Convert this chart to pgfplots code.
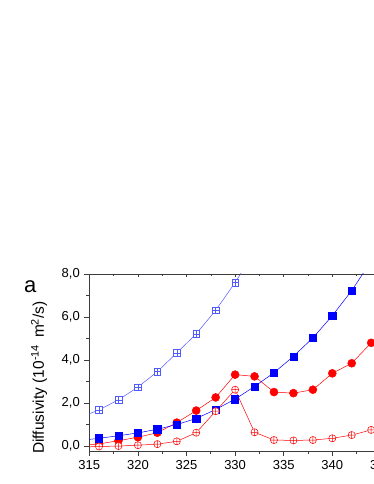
\documentclass[border=0pt]{standalone}
\usepackage{pgfplots}
\pgfplotsset{compat=1.18}
\usepackage{fontspec}
\setmainfont{Liberation Sans}
\usetikzlibrary{plotmarks}

\definecolor{rd}{RGB}{255,0,0}
\definecolor{bl}{RGB}{0,0,255}
\definecolor{lbl}{RGB}{80,90,255}
\definecolor{axgray}{RGB}{60,60,60}

% square with a cross inside (Origin style)
\pgfdeclareplotmark{boxplus}{%
  \pgfpathrectangle{\pgfqpoint{-\pgfplotmarksize}{-\pgfplotmarksize}}{\pgfqpoint{2\pgfplotmarksize}{2\pgfplotmarksize}}%
  \pgfusepathqfillstroke
  \pgfpathmoveto{\pgfqpoint{-\pgfplotmarksize}{0pt}}\pgfpathlineto{\pgfqpoint{\pgfplotmarksize}{0pt}}%
  \pgfpathmoveto{\pgfqpoint{0pt}{-\pgfplotmarksize}}\pgfpathlineto{\pgfqpoint{0pt}{\pgfplotmarksize}}%
  \pgfusepathqstroke}

\pgfplotsset{
  common/.style={
    at={(89.3pt,33pt)}, anchor=south west,
    scale only axis, width=340.2pt, height=177pt,
    xmin=315, xmax=350, ymin=-0.23, ymax=8,
    xtick={315,320,...,350}, ytick={0,2,...,8},
    minor x tick num=1, minor y tick num=1,
  }
}

\begin{document}
\begin{tikzpicture}
\begin{scope}
\clip (0,0) rectangle (374pt,484pt);
\begin{axis}[
  common,
  axis line style={axgray, line width=0.9pt},
  tick style={axgray, line width=0.8pt},
  tick align=outside,
  xtick pos=left, ytick pos=left,
  major tick length=5pt, minor tick length=3pt,
  tick label style={font=\fontsize{13}{15}\selectfont},
  xticklabel style={/pgf/number format/.cd, set thousands separator={}, assume math mode=true},
  yticklabel style={/pgf/number format/.cd, fixed, fixed zerofill, precision=1, use comma, assume math mode=true},
  xticklabel shift=1pt,
  yticklabel shift=1pt,
]
% red, filled circles
\addplot[rd, line width=0.5pt, mark=*, mark size=4pt, mark options={fill=rd}] coordinates {
  (314,0.03) (316,0.10) (318,0.25) (320,0.41) (322,0.62) (324,1.09) (326,1.65)
  (328,2.26) (330,3.32) (332,3.24) (334,2.51) (336,2.46) (338,2.62) (340,3.38)
  (342,3.85) (344,4.80) (346,5.80)
};
% blue, filled squares
\addplot[bl, line width=0.5pt, mark=square*, mark size=3.6pt, mark options={fill=bl}] coordinates {
  (314,0.26) (316,0.36) (318,0.48) (320,0.61) (322,0.78) (324,1.00) (326,1.28)
  (328,1.70) (330,2.18) (332,2.77) (334,3.41) (336,4.17) (338,5.03) (340,6.06)
  (342,7.23) (344,8.60) (346,10.1)
};
% red, open crossed circles
\addplot[rd, line width=0.5pt, mark=oplus*, mark size=3.6pt, mark options={fill=white}] coordinates {
  (314,-0.05) (316,-0.02) (318,0.00) (320,0.04) (322,0.09) (324,0.22) (326,0.62)
  (328,1.62) (330,2.62) (332,0.64) (334,0.28) (336,0.26) (338,0.28) (340,0.36)
  (342,0.51) (344,0.75) (346,1.00)
};
% blue, open crossed squares
\addplot[lbl, line width=0.5pt, mark=boxplus, mark size=3.3pt, mark options={fill=white}] coordinates {
  (314,1.32) (316,1.68) (318,2.15) (320,2.74) (322,3.46) (324,4.33) (326,5.22)
  (328,6.31) (330,7.60) (332,9.05) (334,10.7)
};
\end{axis}
% top ticks pointing inward
\begin{axis}[
  common,
  hide y axis,
  axis line style={draw=none},
  tick style={axgray, line width=0.6pt},
  tick align=inside,
  xtick pos=right,
  major tick length=3pt, minor tick length=2pt,
  xticklabels={},
]
\end{axis}
\end{scope}
\node[rotate=90, font=\fontsize{15.5}{17}\selectfont] at (39pt,106.5pt)
  {Diffusivity (10\textsuperscript{-14}\, m\textsuperscript{2}/s)};
\node[anchor=base west, inner sep=0pt, font=\fontsize{22}{24}\selectfont] at (24pt,191pt) {a};
\pgfresetboundingbox
\useasboundingbox (0,0) rectangle (374pt,484pt);
\end{tikzpicture}
\end{document}
